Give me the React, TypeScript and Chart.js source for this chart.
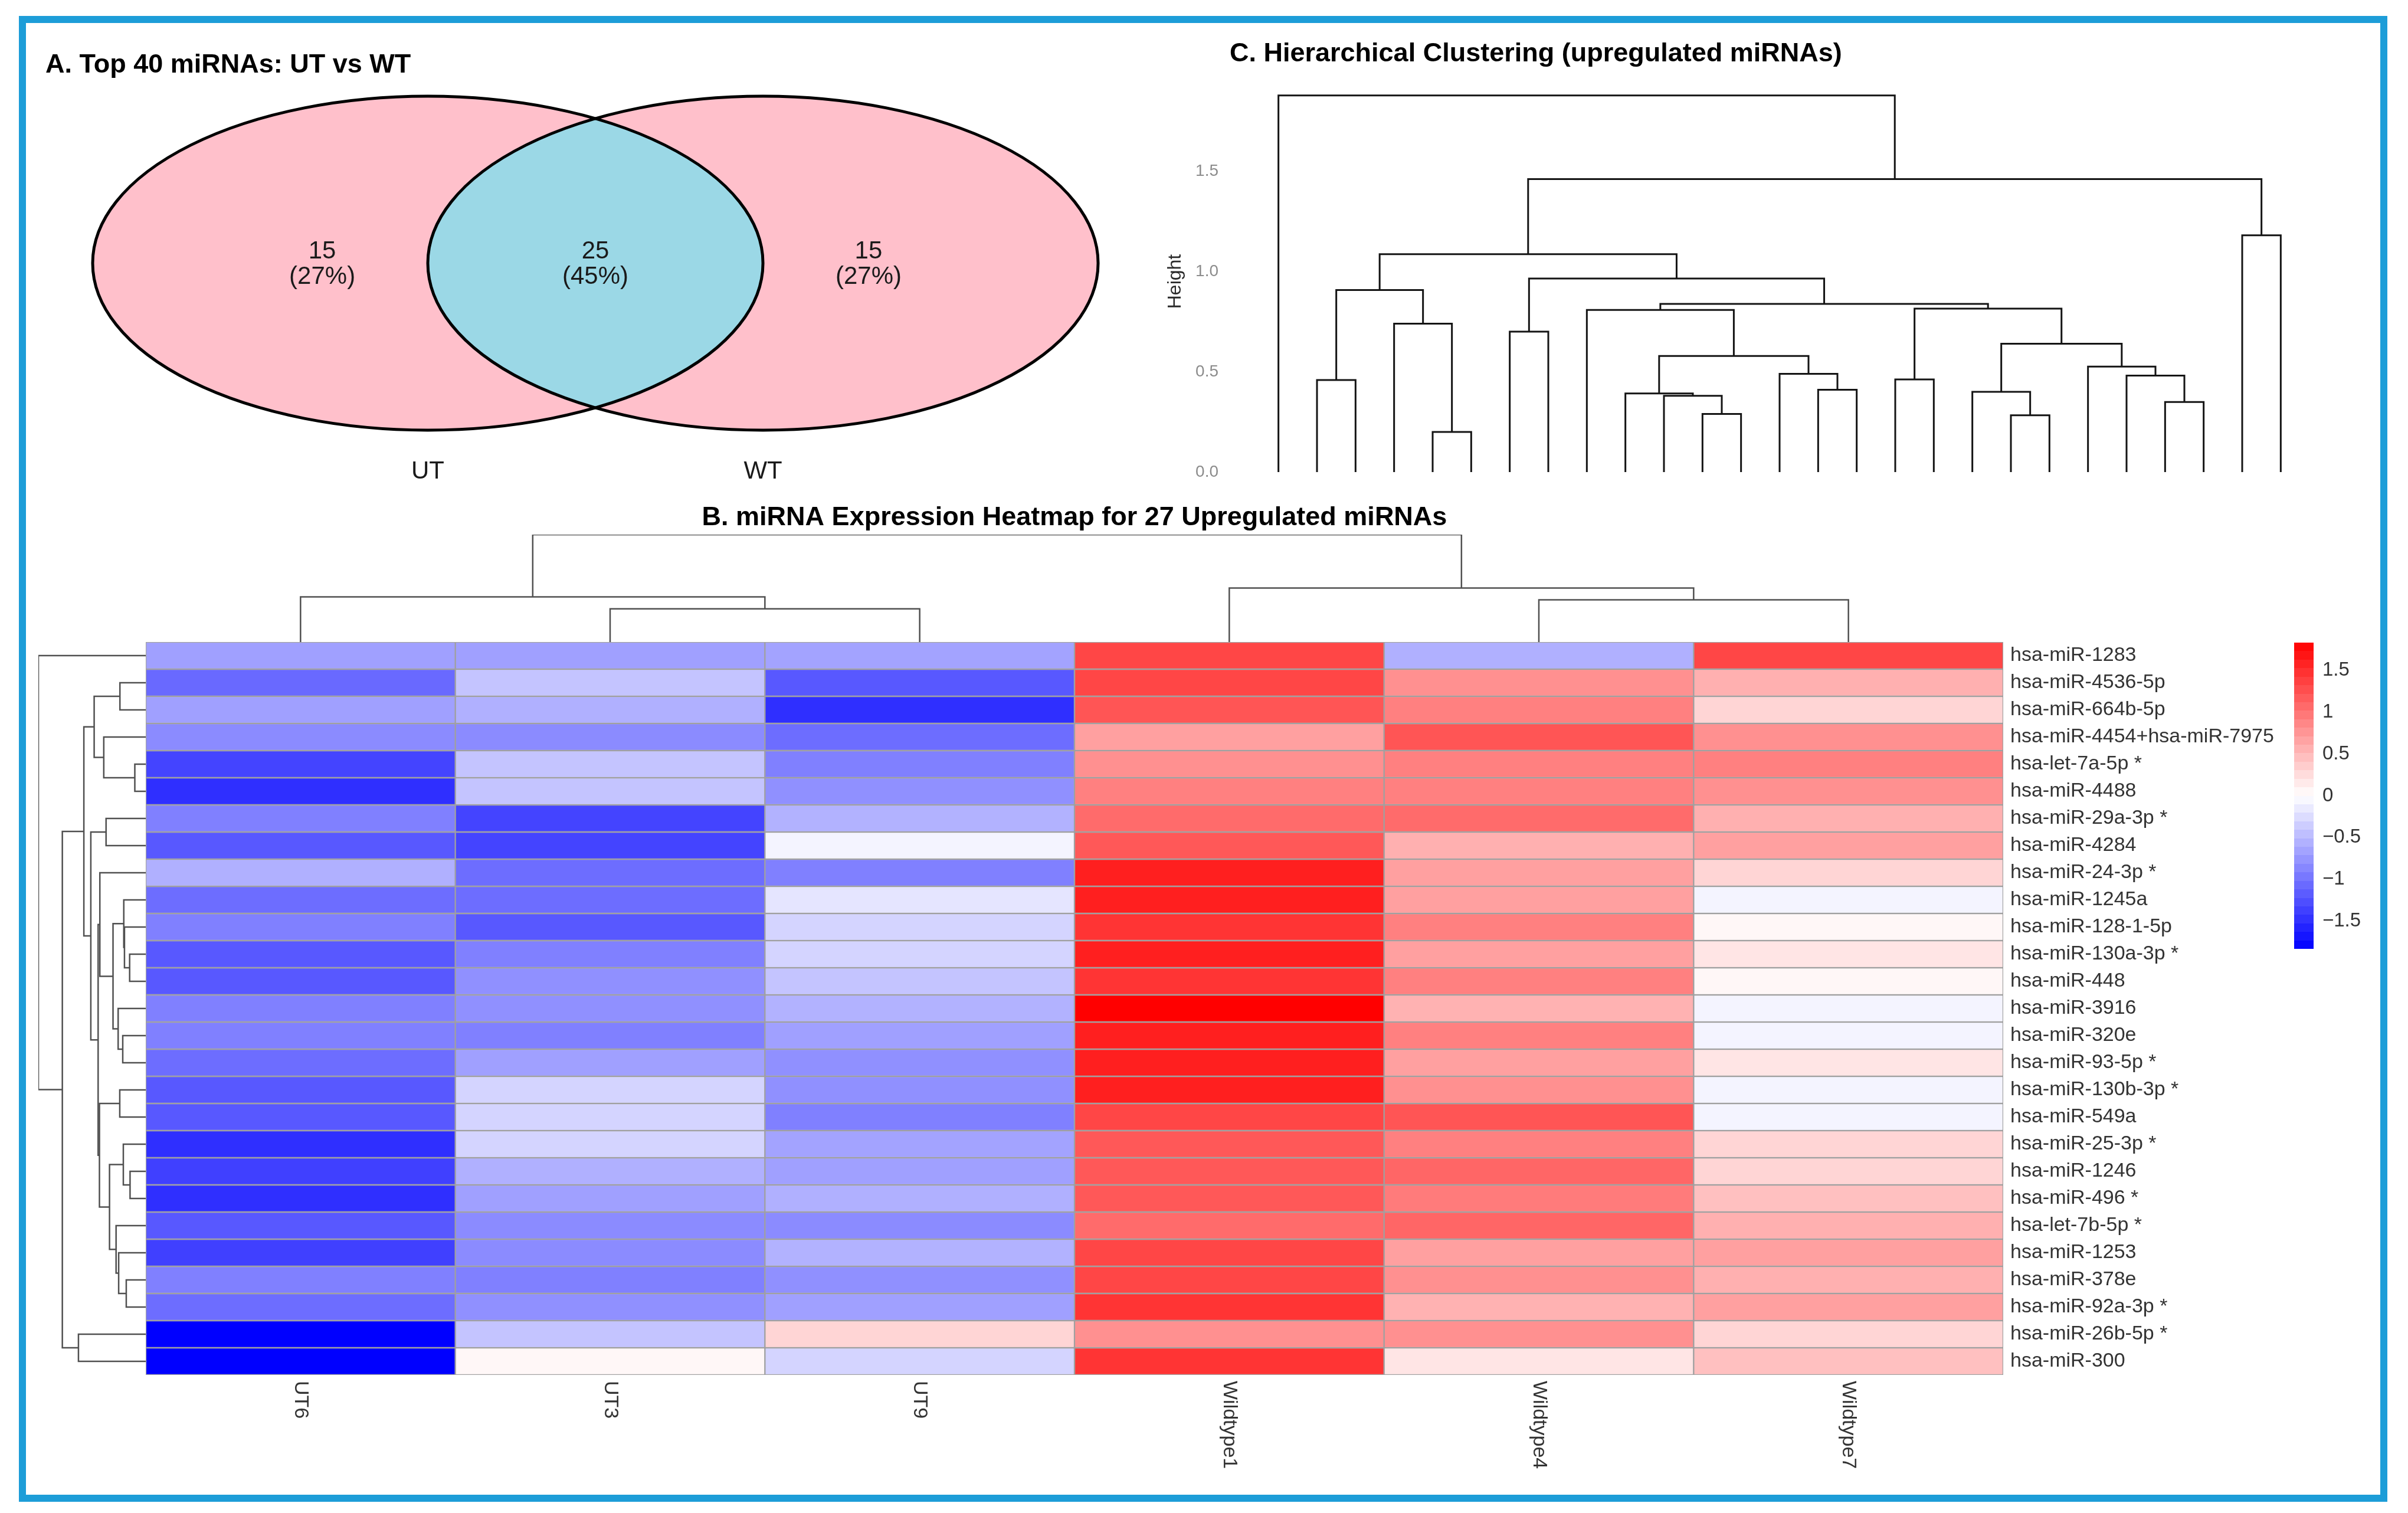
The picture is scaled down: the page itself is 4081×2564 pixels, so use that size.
import React, { useEffect, useRef } from 'react';
import { Chart, registerables } from 'chart.js';

Chart.register(...registerables);

const SANS = '"Liberation Sans", Arial, Helvetica, sans-serif';

// ---------- Panel A: Venn diagram ----------
const vennSets = ['UT', 'WT'];
const vennCounts = [15, 25, 15];
const vennPercents = ['27%', '45%', '27%'];

// ---------- Panel B: heatmap ----------
const sampleNames = ['UT6', 'UT3', 'UT9', 'Wildtype1', 'Wildtype4', 'Wildtype7'];
const mirnaNames = [
  'hsa-miR-1283', 'hsa-miR-4536-5p', 'hsa-miR-664b-5p', 'hsa-miR-4454+hsa-miR-7975',
  'hsa-let-7a-5p *', 'hsa-miR-4488', 'hsa-miR-29a-3p *', 'hsa-miR-4284', 'hsa-miR-24-3p *',
  'hsa-miR-1245a', 'hsa-miR-128-1-5p', 'hsa-miR-130a-3p *', 'hsa-miR-448', 'hsa-miR-3916',
  'hsa-miR-320e', 'hsa-miR-93-5p *', 'hsa-miR-130b-3p *', 'hsa-miR-549a', 'hsa-miR-25-3p *',
  'hsa-miR-1246', 'hsa-miR-496 *', 'hsa-let-7b-5p *', 'hsa-miR-1253', 'hsa-miR-378e',
  'hsa-miR-92a-3p *', 'hsa-miR-26b-5p *', 'hsa-miR-300',
];
const ut6 = [-0.68, -1.08, -0.68, -0.83, -1.34, -1.49, -0.91, -1.2, -0.57, -1.05, -0.91, -1.2, -1.2, -0.91, -0.91, -1.05, -1.2, -1.2, -1.49, -1.37, -1.49, -1.2, -1.37, -0.91, -1.05, -1.83, -1.83];
const ut3 = [-0.68, -0.42, -0.57, -0.83, -0.42, -0.42, -1.34, -1.34, -1.05, -1.05, -1.2, -0.91, -0.8, -0.8, -0.91, -0.68, -0.31, -0.31, -0.31, -0.57, -0.68, -0.83, -0.83, -0.91, -0.8, -0.42, 0.06];
const ut9 = [-0.66, -1.2, -1.49, -1.05, -0.91, -0.8, -0.55, -0.08, -0.91, -0.19, -0.31, -0.31, -0.42, -0.55, -0.68, -0.8, -0.8, -0.91, -0.66, -0.68, -0.57, -0.83, -0.55, -0.8, -0.68, 0.3, -0.31];
const wt1 = [1.33, 1.33, 1.22, 0.68, 0.8, 0.91, 1.06, 1.2, 1.61, 1.61, 1.46, 1.61, 1.46, 1.83, 1.61, 1.61, 1.61, 1.33, 1.2, 1.2, 1.2, 1.06, 1.33, 1.33, 1.46, 0.8, 1.46];
const wt4 = [-0.57, 0.8, 0.91, 1.22, 0.91, 0.91, 1.06, 0.57, 0.68, 0.68, 0.91, 0.68, 0.91, 0.55, 0.91, 0.68, 0.8, 1.22, 0.91, 1.1, 0.95, 1.1, 0.68, 0.8, 0.55, 0.8, 0.19];
const wt7 = [1.33, 0.57, 0.3, 0.8, 0.91, 0.8, 0.57, 0.68, 0.3, -0.08, 0.06, 0.19, 0.06, -0.08, -0.08, 0.19, -0.08, -0.08, 0.3, 0.3, 0.45, 0.57, 0.68, 0.57, 0.68, 0.3, 0.45];
const heatColumns = [ut6, ut3, ut9, wt1, wt4, wt7];

// Clustering of samples (hclust merge style: negative = leaf, positive = earlier merge)
const sampleMerges: [number, number, number][] = [
  [-2, -3, 0.56],
  [-1, 1, 0.76],
  [-5, -6, 0.71],
  [-4, 3, 0.91],
  [2, 4, 1.81],
];
// Clustering of the 27 upregulated miRNAs (heatmap rows and panel C)
const mirnaMerges: [number, number, number][] = [
  [-5, -6, 0.2],
  [-2, -3, 0.459],
  [-4, 1, 0.74],
  [2, 3, 0.907],
  [-7, -8, 0.7],
  [-12, -13, 0.29],
  [-11, 6, 0.38],
  [-10, 7, 0.392],
  [-15, -16, 0.41],
  [-14, 9, 0.49],
  [8, 10, 0.579],
  [-9, 11, 0.808],
  [-17, -18, 0.462],
  [-20, -21, 0.283],
  [-19, 14, 0.4],
  [-24, -25, 0.349],
  [-23, 16, 0.481],
  [-22, 17, 0.526],
  [15, 18, 0.64],
  [13, 19, 0.815],
  [12, 20, 0.838],
  [5, 21, 0.965],
  [4, 22, 1.086],
  [-26, -27, 1.18],
  [23, 24, 1.46],
  [-1, 25, 1.877],
];

const legendTicks = [-1.5, -1, -0.5, 0, 0.5, 1, 1.5];
const heightTicks = [0, 0.5, 1, 1.5];

// ---------- helpers ----------
const HEAT_MAX = 1.83;
function heatColor(v: number): string {
  const t = Math.max(-1, Math.min(1, v / HEAT_MAX));
  if (t < 0) {
    const c = Math.round(255 * (1 + t));
    return `rgb(${c},${c},255)`;
  }
  const c = Math.round(255 * (1 - t));
  return `rgb(255,${c},${c})`;
}

function dendroSegments(merges: [number, number, number][]) {
  const pos: number[] = [];
  const hts: number[] = [];
  const gp = (k: number) => (k < 0 ? -k : pos[k - 1]);
  const gh = (k: number) => (k < 0 ? 0 : hts[k - 1]);
  const segs: [number, number][][] = [];
  merges.forEach(([a, b, h]) => {
    const pa = gp(a);
    const pb = gp(b);
    segs.push([[pa, gh(a)], [pa, h], [pb, h], [pb, gh(b)]]);
    pos.push((pa + pb) / 2);
    hts.push(h);
  });
  return segs;
}

function dendroDatasets(merges: [number, number, number][], horizontal: boolean, shift: number, color: string, width: number) {
  return dendroSegments(merges).map((seg) => ({
    type: 'scatter' as const,
    data: seg.map(([p, h]) => (horizontal ? { x: h, y: p + shift } : { x: p + shift, y: h })),
    showLine: true,
    borderColor: color,
    borderWidth: width,
    pointRadius: 0,
    tension: 0,
    fill: false,
  }));
}

const textPlugin = {
  id: 'texts',
  afterDraw(chart: any, _args: any, opts: any) {
    const items = (opts && opts.items) || [];
    const ctx = chart.ctx;
    items.forEach((it: any) => {
      ctx.save();
      ctx.font = it.font;
      ctx.fillStyle = it.color || '#000';
      ctx.textAlign = it.align || 'left';
      ctx.textBaseline = it.baseline || 'alphabetic';
      ctx.translate(it.x, it.y);
      if (it.rotate) ctx.rotate(it.rotate);
      ctx.fillText(it.text, 0, 0);
      ctx.restore();
    });
  },
};

const baseOptions = {
  responsive: false,
  animation: false as const,
  devicePixelRatio: 1,
  events: [] as any[],
};

const noPlugins = { legend: { display: false }, tooltip: { enabled: false } };

// ---------- Venn ----------
const vennCenters = [0, 1];
const VENN_R = 1;
const PINK = '#ffc0cb';
const LENS = '#9bd8e6';

const vennPlugin = {
  id: 'venn',
  beforeDatasetsDraw(chart: any) {
    const { ctx, scales } = chart;
    const xs = scales.x;
    const ys = scales.y;
    const cy = ys.getPixelForValue(0);
    const ry = Math.abs(ys.getPixelForValue(VENN_R) - cy);
    const ell = vennCenters.map((c) => ({
      cx: xs.getPixelForValue(c),
      rx: Math.abs(xs.getPixelForValue(c + VENN_R) - xs.getPixelForValue(c)),
    }));
    const path = (e: { cx: number; rx: number }) => {
      ctx.beginPath();
      ctx.ellipse(e.cx, cy, e.rx, ry, 0, 0, Math.PI * 2);
    };
    ctx.save();
    ell.forEach((e) => {
      path(e);
      ctx.fillStyle = PINK;
      ctx.fill();
    });
    ctx.save();
    path(ell[0]);
    ctx.clip();
    path(ell[1]);
    ctx.fillStyle = LENS;
    ctx.fill();
    ctx.restore();
    ctx.lineWidth = 5;
    ctx.strokeStyle = '#000';
    ell.forEach((e) => {
      path(e);
      ctx.stroke();
    });
    ctx.restore();
  },
  afterDatasetsDraw(chart: any) {
    const ctx = chart.ctx;
    ctx.save();
    ctx.fillStyle = '#1a1a1a';
    ctx.textAlign = 'center';
    ctx.textBaseline = 'middle';
    ctx.font = `42px ${SANS}`;
    const m0 = chart.getDatasetMeta(0);
    m0.data.forEach((pt: any, i: number) => {
      ctx.fillText(String(vennCounts[i]), pt.x, pt.y - 20);
      ctx.fillText(`(${vennPercents[i]})`, pt.x, pt.y + 23);
    });
    const m1 = chart.getDatasetMeta(1);
    m1.data.forEach((pt: any, i: number) => {
      ctx.fillText(vennSets[i], pt.x, pt.y);
    });
    ctx.restore();
  },
};

function makeVenn() {
  const x0 = vennCenters[0];
  const x1 = vennCenters[1];
  return {
    type: 'scatter',
    data: {
      datasets: [
        {
          data: [
            { x: x0 - 0.315 * VENN_R, y: 0 },
            { x: (x0 + x1) / 2, y: 0 },
            { x: x1 + 0.315 * VENN_R, y: 0 },
          ],
          pointRadius: 0,
        },
        {
          data: [
            { x: x0, y: -1.25 * VENN_R },
            { x: x1, y: -1.25 * VENN_R },
          ],
          pointRadius: 0,
        },
      ],
    },
    options: {
      ...baseOptions,
      layout: { padding: 0 },
      scales: {
        x: { type: 'linear', min: -1.206, max: 2.139, display: false },
        y: { type: 'linear', min: -1.4276, max: 1.4346, display: false },
      },
      plugins: {
        ...noPlugins,
        texts: {
          items: [{ text: 'A. Top 40 miRNAs: UT vs WT', x: 37, y: 83, font: `bold 45px ${SANS}`, color: '#000' }],
        },
      },
    },
    plugins: [vennPlugin, textPlugin],
  };
}

// ---------- Panel C ----------
function makeCluster() {
  return {
    type: 'scatter',
    data: { datasets: dendroDatasets(mirnaMerges, false, 0, '#141414', 3) },
    options: {
      ...baseOptions,
      layout: { padding: { top: 114, bottom: 40, right: 52, left: 0 } },
      scales: {
        x: { type: 'linear', min: 0.5, max: mirnaNames.length + 0.5, display: false },
        y: {
          type: 'linear',
          min: 0,
          max: 1.9,
          afterBuildTicks: (s: any) => {
            s.ticks = heightTicks.map((v) => ({ value: v }));
          },
          afterFit: (s: any) => {
            s.width = 184;
            s.paddingTop = 0;
            s.paddingBottom = 0;
          },
          grid: { display: false, drawTicks: false },
          border: { display: false },
          ticks: {
            padding: 69,
            color: '#8c8c8c',
            font: { family: SANS, size: 28 },
            callback: (v: any) => Number(v).toFixed(1),
          },
          title: {
            display: true,
            text: 'Height',
            color: '#2a2a2a',
            font: { family: SANS, size: 32 },
            padding: { top: 23, bottom: 0 },
          },
        },
      },
      plugins: {
        ...noPlugins,
        texts: {
          items: [{ text: 'C. Hierarchical Clustering (upregulated miRNAs)', x: 134, y: 64, font: `bold 45px ${SANS}`, color: '#000' }],
        },
      },
    },
    plugins: [textPlugin],
  };
}

// ---------- Heatmap ----------
const sampleLabelPlugin = {
  id: 'sampleLabels',
  afterDraw(chart: any) {
    const { ctx, chartArea, scales } = chart;
    ctx.save();
    ctx.font = `34px ${SANS}`;
    ctx.fillStyle = '#333';
    ctx.textAlign = 'left';
    ctx.textBaseline = 'middle';
    sampleNames.forEach((name, j) => {
      ctx.save();
      ctx.translate(scales.x.getPixelForValue(j + 0.5), chartArea.bottom + 10);
      ctx.rotate(Math.PI / 2);
      ctx.fillText(name, 0, 0);
      ctx.restore();
    });
    ctx.restore();
  },
};

function makeHeatmap() {
  return {
    type: 'bar',
    data: {
      labels: mirnaNames,
      datasets: sampleNames.map((s, j) => ({
        label: s,
        data: mirnaNames.map(() => [j, j + 1]),
        backgroundColor: heatColumns[j].map(heatColor),
        borderColor: '#a0a0a0',
        borderWidth: 1.5,
        borderSkipped: false,
        grouped: false,
        barPercentage: 1,
        categoryPercentage: 1,
      })),
    },
    options: {
      ...baseOptions,
      indexAxis: 'y',
      layout: { padding: { left: 0, right: 0, top: 0, bottom: 200 } },
      scales: {
        x: { type: 'linear', min: 0, max: sampleNames.length, display: false },
        y: {
          type: 'category',
          position: 'right',
          grid: { display: false, drawTicks: false },
          border: { display: false },
          ticks: { autoSkip: false, padding: 12, color: '#333', font: { family: SANS, size: 34 } },
          afterFit: (s: any) => {
            s.width = 495;
            s.paddingTop = 0;
            s.paddingBottom = 0;
          },
        },
      },
      plugins: { ...noPlugins },
    },
    plugins: [sampleLabelPlugin],
  };
}

function makeRowDendro() {
  const maxH = Math.max(...mirnaMerges.map((m) => m[2]));
  return {
    type: 'scatter',
    data: { datasets: dendroDatasets(mirnaMerges, true, 0, '#505050', 2.5) },
    options: {
      ...baseOptions,
      layout: { padding: { left: 20, right: 2, top: 10, bottom: 10 } },
      scales: {
        x: { type: 'linear', min: 0, max: maxH, reverse: true, display: false },
        y: { type: 'linear', min: 0.5, max: mirnaNames.length + 0.5, reverse: true, display: false },
      },
      plugins: { ...noPlugins },
    },
  };
}

function makeColDendro() {
  const maxH = Math.max(...sampleMerges.map((m) => m[2]));
  return {
    type: 'scatter',
    data: { datasets: dendroDatasets(sampleMerges, false, -0.5, '#505050', 2.5) },
    options: {
      ...baseOptions,
      layout: { padding: { left: 7, right: 5, top: 66, bottom: 2 } },
      scales: {
        x: { type: 'linear', min: 0, max: sampleNames.length, display: false },
        y: { type: 'linear', min: 0, max: maxH, display: false },
      },
      plugins: {
        ...noPlugins,
        texts: {
          items: [{ text: 'B. miRNA Expression Heatmap for 27 Upregulated miRNAs', x: 1581, y: 50, align: 'center', font: `bold 45px ${SANS}`, color: '#000' }],
        },
      },
    },
    plugins: [textPlugin],
  };
}

function makeLegend() {
  const steps = 36;
  const fmt = (v: number) => (v === 0 ? '0' : (v < 0 ? '\u2212' : '') + String(Math.abs(v)));
  return {
    type: 'bar',
    data: {
      labels: [''],
      datasets: [
        {
          data: [[-HEAT_MAX, HEAT_MAX]],
          backgroundColor: (c: any) => {
            const chart = c.chart;
            const ys = chart.scales.y;
            if (!ys || !chart.chartArea) return '#fff';
            const y0 = ys.getPixelForValue(-HEAT_MAX);
            const y1 = ys.getPixelForValue(HEAT_MAX);
            const g = chart.ctx.createLinearGradient(0, y0, 0, y1);
            for (let k = 0; k < steps; k++) {
              const mid = -HEAT_MAX + ((k + 0.5) * 2 * HEAT_MAX) / steps;
              const col = heatColor(mid);
              g.addColorStop(k / steps, col);
              g.addColorStop(Math.min(1, (k + 1) / steps - 0.0001), col);
            }
            return g;
          },
          borderWidth: 0,
          barPercentage: 1,
          categoryPercentage: 1,
        },
      ],
    },
    options: {
      ...baseOptions,
      layout: { padding: { left: 8, right: 0, top: 9, bottom: 12 } },
      scales: {
        x: { display: false },
        y: {
          type: 'linear',
          position: 'right',
          min: -HEAT_MAX,
          max: HEAT_MAX,
          afterBuildTicks: (s: any) => {
            s.ticks = legendTicks.map((v) => ({ value: v }));
          },
          afterFit: (s: any) => {
            s.width = 159;
            s.paddingTop = 0;
            s.paddingBottom = 0;
          },
          grid: { display: false, drawTicks: false },
          border: { display: false },
          ticks: { padding: 15, color: '#333', font: { family: SANS, size: 33 }, callback: (v: any) => fmt(Number(v)) },
        },
      },
      plugins: { ...noPlugins },
    },
  };
}

function ChartBox({ left, top, width, height, make }: { left: number; top: number; width: number; height: number; make: () => any }) {
  const ref = useRef<HTMLCanvasElement | null>(null);
  useEffect(() => {
    if (!ref.current) return;
    const chart = new Chart(ref.current, make());
    return () => chart.destroy();
  }, []);
  return (
    <canvas
      ref={ref}
      width={width}
      height={height}
      style={{ position: 'absolute', left, top, width, height }}
    />
  );
}

export default function App() {
  return (
    <div style={{ position: 'absolute', left: 0, top: 0, width: 4081, height: 2564, background: '#fff', overflow: 'hidden' }}>
      <div
        style={{
          position: 'absolute',
          left: 32,
          top: 27,
          width: 4014,
          height: 2518,
          border: '12px solid #1d9dd8',
          boxSizing: 'border-box',
        }}
      />
      <ChartBox left={40} top={40} width={1900} height={810} make={makeVenn} />
      <ChartBox left={1950} top={40} width={2000} height={800} make={makeCluster} />
      <ChartBox left={240} top={840} width={3160} height={250} make={makeColDendro} />
      <ChartBox left={45} top={1078} width={205} height={1262} make={makeRowDendro} />
      <ChartBox left={247} top={1088} width={3643} height={1442} make={makeHeatmap} />
      <ChartBox left={3880} top={1080} width={200} height={540} make={makeLegend} />
    </div>
  );
}
